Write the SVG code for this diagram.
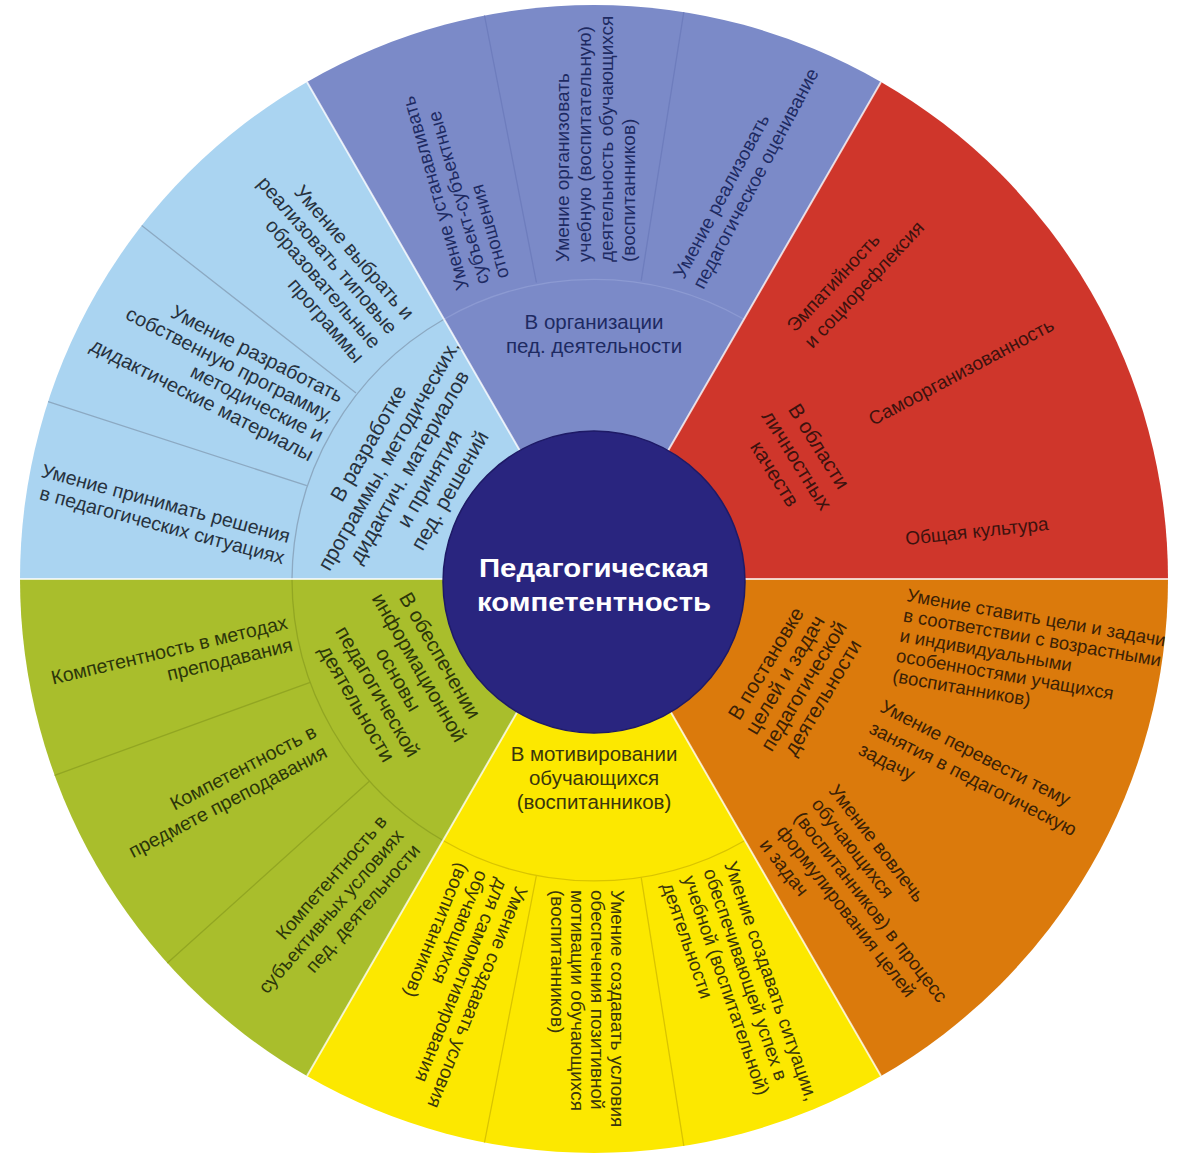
<svg xmlns="http://www.w3.org/2000/svg" width="1179" height="1157" viewBox="0 0 1179 1157">
<style>
.t{font-family:"Liberation Sans",Arial,sans-serif;font-size:19px}
.lb{font-size:20.5px}
.e{text-anchor:end}
.m{text-anchor:middle}
.cp{fill:#1E2A62}
.cb{fill:#27323E}
.cg{fill:#2C360A}
.cy{fill:#3A360C}
.co{fill:#3A2106}
.cr{fill:#3C120E}
.sep{stroke:#FFFFFF;stroke-width:2;stroke-opacity:0.75;fill:none}
.dv{fill:none;stroke-width:1.3}
</style>
<rect width="1179" height="1157" fill="#FFFFFF"/>

<g id="sector-organization">
<path d="M594,579 L881,81.9 A574,574 0 0,0 307,81.9 Z" fill="#7B8AC8"/>
<text class="t lb cp m" x="594" y="329"><tspan x="594" y="329">В организации</tspan><tspan x="594" dy="24">пед. деятельности</tspan></text>
<text class="t cp" transform="translate(469,288) rotate(-106)"><tspan x="0" y="0">Умение устанавливать</tspan><tspan x="0" dy="21">субъект-субъектные</tspan><tspan x="0" dy="21">отношения</tspan></text>
<text class="t cp" transform="translate(569,262) rotate(-90)"><tspan x="0" y="0">Умение организовать</tspan><tspan x="0" dy="22">учебную (воспитательную)</tspan><tspan x="0" dy="22">деятельность обучающихся</tspan><tspan x="0" dy="22">(воспитанников)</tspan></text>
<text class="t cp" transform="translate(684,280) rotate(-62)"><tspan x="0" y="0">Умение реализовать</tspan><tspan x="0" dy="22">педагогическое оценивание</tspan></text>
</g>

<g id="sector-personal">
<path d="M594,579 L1168,579 A574,574 0 0,0 881,81.9 Z" fill="#CF362B"/>
<text class="t lb cr m" transform="translate(813,450) rotate(58)"><tspan x="0" y="0">В области</tspan><tspan x="0" dy="26">личностных</tspan><tspan x="0" dy="26">качеств</tspan></text>
<text class="t cr" transform="translate(795,333) rotate(-47)"><tspan x="0" y="0">Эмпатийность</tspan><tspan x="0" dy="24">и социорефлексия</tspan></text>
<text class="t cr" transform="translate(873,426) rotate(-28)">Самоорганизованность</text>
<text class="t cr" transform="translate(906,545) rotate(-6)">Общая культура</text>
</g>

<g id="sector-goals">
<path d="M594,579 L881,1076.1 A574,574 0 0,0 1168,579 Z" fill="#DB7A0C"/>
<text class="t lb co m" transform="translate(772,667) rotate(-59)"><tspan x="0" y="0">В постановке</tspan><tspan x="0" dy="22">целей и задач</tspan><tspan x="0" dy="22">педагогической</tspan><tspan x="0" dy="22">деятельности</tspan></text>
<text class="t co" style="font-size:18.5px" transform="translate(906,601) rotate(10)"><tspan x="0" y="0">Умение ставить цели и задачи</tspan><tspan x="0" dy="20.5">в соответствии с возрастными</tspan><tspan x="0" dy="20.5">и индивидуальными</tspan><tspan x="0" dy="20.5">особенностями учащихся</tspan><tspan x="0" dy="20.5">(воспитанников)</tspan></text>
<text class="t co" transform="translate(879,711) rotate(27)"><tspan x="0" y="0">Умение перевести тему</tspan><tspan x="0" dy="24">занятия в педагогическую</tspan><tspan x="0" dy="24">задачу</tspan></text>
<text class="t co" transform="translate(828,791) rotate(52)"><tspan x="0" y="0">Умение вовлечь</tspan><tspan x="0" dy="22">обучающихся</tspan><tspan x="0" dy="22">(воспитанников) в процесс</tspan><tspan x="0" dy="22">формулирования целей</tspan><tspan x="0" dy="22">и задач</tspan></text>
</g>

<g id="sector-motivation">
<path d="M594,579 L307,1076.1 A574,574 0 0,0 881,1076.1 Z" fill="#FCE800"/>
<text class="t lb cy m"><tspan x="594" y="761">В мотивировании</tspan><tspan x="594" dy="24">обучающихся</tspan><tspan x="594" dy="24">(воспитанников)</tspan></text>
<text class="t cy" transform="translate(516,885) rotate(112)"><tspan x="0" y="0">Умение создавать условия</tspan><tspan x="0" dy="21">для самомотивирования</tspan><tspan x="0" dy="21">обучающихся</tspan><tspan x="0" dy="21">(воспитанников)</tspan></text>
<text class="t cy" transform="translate(611,890) rotate(90)"><tspan x="0" y="0">Умение создавать условия</tspan><tspan x="0" dy="20">обеспечения позитивной</tspan><tspan x="0" dy="20">мотивации обучающихся</tspan><tspan x="0" dy="20">(воспитанников)</tspan></text>
<text class="t cy" transform="translate(724,864) rotate(71)"><tspan x="0" y="0">Умение создавать ситуации,</tspan><tspan x="0" dy="22">обеспечивающей успех в</tspan><tspan x="0" dy="22">учебной (воспитательной)</tspan><tspan x="0" dy="22">деятельности</tspan></text>
</g>

<g id="sector-information">
<path d="M594,579 L20,579 A574,574 0 0,0 307,1076.1 Z" fill="#A9BE2C"/>
<text class="t lb cg m" transform="translate(434,659) rotate(60)"><tspan x="0" y="0">В обеспечении</tspan><tspan x="0" dy="24">информационной</tspan><tspan x="0" dy="24">основы</tspan><tspan x="0" dy="24">педагогической</tspan><tspan x="0" dy="24">деятельности</tspan></text>
<text class="t cg e" style="font-size:19.5px" transform="translate(288.5,628.5) rotate(-13.4)"><tspan x="0" y="0">Компетентность в методах</tspan><tspan x="0" dy="23">преподавания</tspan></text>
<text class="t cg e" style="font-size:19.5px" transform="translate(318,736) rotate(-27.5)"><tspan x="0" y="0">Компетентность в</tspan><tspan x="0" dy="23">предмете преподавания</tspan></text>
<text class="t cg e" transform="translate(388,822) rotate(-49)"><tspan x="0" y="0">Компетентность в</tspan><tspan x="0" dy="22">субъективных условиях</tspan><tspan x="0" dy="22">пед. деятельности</tspan></text>
</g>

<g id="sector-program">
<path d="M594,579 L307,81.9 A574,574 0 0,0 20,579 Z" fill="#AAD4F1"/>
<text class="t cb m" style="font-size:21px" transform="translate(374.5,447) rotate(-60)"><tspan x="0" y="0">В разработке</tspan><tspan x="0" dy="23.5">программы, методических,</tspan><tspan x="0" dy="23.5">дидактич. материалов</tspan><tspan x="0" dy="23.5">и принятия</tspan><tspan x="0" dy="23.5">пед. решений</tspan></text>
<text class="t cb e" style="font-size:20px" transform="translate(405,321) rotate(49)"><tspan x="0" y="0">Умение выбрать и</tspan><tspan x="0" dy="22">реализовать типовые</tspan><tspan x="0" dy="22">образовательные</tspan><tspan x="0" dy="22">программы</tspan></text>
<text class="t cb e" style="font-size:20px" transform="translate(339,403) rotate(27)"><tspan x="0" y="0">Умение разработать</tspan><tspan x="0" dy="22">собственную программу,</tspan><tspan x="0" dy="22">методические и</tspan><tspan x="0" dy="22">дидактические материалы</tspan></text>
<text class="t cb e" style="font-size:19.5px" transform="translate(288,543) rotate(15)"><tspan x="0" y="0">Умение принимать решения</tspan><tspan x="0" dy="22">в педагогических ситуациях</tspan></text>
</g>

<g id="dividers">
<path class="dv" stroke="#8C9AD2" d="M744,319.2 A302,302 0 0,0 444,319.2"/>
<path class="dv" stroke="#8CA9C2" d="M444,319.2 A302,302 0 0,0 292,579"/>
<path class="dv" stroke="#92A622" d="M292,579 A302,302 0 0,0 443,840.5"/>
<path class="dv" stroke="#D9C400" d="M443,840.5 A302,302 0 0,0 745,840.5"/>
<path class="dv" stroke="#6E7DBD" d="M641.2,280.7 L683.8,12.1 M536.4,282.5 L484.5,15.5"/>
<path class="dv" stroke="#8CA9C2" d="M356,393.1 L141.7,225.6 M306.8,485.7 L48.1,401.6"/>
<path class="dv" stroke="#92A622" d="M310.2,682.3 L54.6,775.3 M369.6,781.1 L167.4,963.1"/>
<path class="dv" stroke="#D9C400" d="M536.4,875.5 L484.5,1142.5 M641.2,877.3 L683.8,1145.9"/>
<path class="sep" d="M594,579 L881,81.9 M594,579 L307,81.9 M594,579 L20,579 M594,579 L307,1076.1 M594,579 L881,1076.1 M594,579 L1168,579"/>
</g>

<g id="center">
<circle cx="594" cy="582" r="151" fill="#29257F" stroke="#1E1A66" stroke-width="1.5"/>
<text class="t m" style="font-size:26px;font-weight:bold;fill:#FFFFFF" transform="translate(594,577) scale(1.13,1)"><tspan x="0" y="0">Педагогическая</tspan><tspan x="0" dy="34">компетентность</tspan></text>
</g>
</svg>
